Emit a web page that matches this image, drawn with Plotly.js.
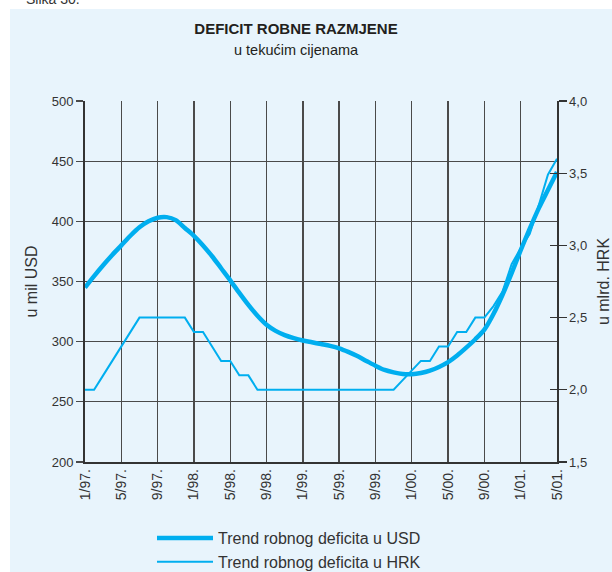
<!DOCTYPE html>
<html>
<head>
<meta charset="utf-8">
<script src="https://cdn.plot.ly/plotly-3.0.1.min.js"></script>
<style>
  html, body { margin: 0; padding: 0; background: #ffffff; }
  #chart { width: 612px; height: 572px; }
</style>
</head>
<body>
<div id="chart"></div>
<script>
// Monthly data, 1/1997 .. 5/2001 (53 months)
const usdTrend = [
  345, 354.5, 363.5, 372, 380, 388, 395, 400, 403, 403.5,
  401, 394.5, 388, 380, 371, 361, 351, 340.5, 330.5, 321.5,
  314, 309, 305.5, 303, 301, 299.5, 298, 296.5, 294.5, 291.5,
  288, 284, 280, 276.5, 274.5, 273.2, 273, 274, 276, 279,
  283, 288.5, 295, 302, 310, 323, 339, 357, 376, 394,
  411, 426, 441
];
const hrkTrend = [
  2.0, 2.0, 2.1, 2.2, 2.3, 2.4, 2.5, 2.5, 2.5, 2.5,
  2.5, 2.5, 2.4, 2.4, 2.3, 2.2, 2.2, 2.1, 2.1, 2.0,
  2.0, 2.0, 2.0, 2.0, 2.0, 2.0, 2.0, 2.0, 2.0, 2.0,
  2.0, 2.0, 2.0, 2.0, 2.0, 2.067, 2.133, 2.2, 2.2, 2.3,
  2.3, 2.4, 2.4, 2.5, 2.5, 2.58, 2.68, 2.87, 2.98, 3.08,
  3.28, 3.49, 3.60
];
const tickMonths = [0, 4, 8, 12, 16, 20, 24, 28, 32, 36, 40, 44, 48, 52];
const tickLabels = ['1/97.', '5/97.', '9/97.', '1/98.', '5/98.', '9/98.', '1/99.',
                    '5/99.', '9/99.', '1/00.', '5/00.', '9/00.', '1/01.', '5/01.'];
const seriesNames = ['Trend robnog deficita u USD', 'Trend robnog deficita u HRK'];
const chartTitle = 'DEFICIT ROBNE RAZMJENE';
const chartSubtitle = 'u tekućim cijenama';
const months = usdTrend.map((_, i) => i);

const LINE = '#00aeef';
const GRID = '#4a4a4a';
const TXT = '#333333';
const BG = '#e8f4fc';
const FONT = '"Liberation Sans", Arial, sans-serif';

const traces = [
  { x: months, y: usdTrend, name: seriesNames[0], type: 'scatter', mode: 'lines',
    line: { color: LINE, width: 4.5, shape: 'spline', smoothing: 0.8 }, yaxis: 'y' },
  { x: months, y: hrkTrend, name: seriesNames[1], type: 'scatter', mode: 'lines',
    line: { color: LINE, width: 2 }, yaxis: 'y2' },
  // invisible helper so the inside ticks of the right axis are drawn
  { x: [0], y: [1.5], yaxis: 'y3', mode: 'markers', marker: { opacity: 0 },
    showlegend: false, hoverinfo: 'skip' }
];

const layout = {
  width: 612, height: 572,
  margin: { l: 85, r: 55, t: 101, b: 110, pad: 0, autoexpand: false },
  paper_bgcolor: '#ffffff',
  plot_bgcolor: 'rgba(0,0,0,0)',
  separators: ', ',
  font: { family: FONT, color: TXT, size: 13 },
  title: {
    text: '<b>' + chartTitle + '</b>',
    font: { family: FONT, size: 15, color: '#231f20' },
    x: 296 / 612, xanchor: 'center', xref: 'container',
    y: 1 - 29 / 572, yanchor: 'middle', yref: 'container'
  },
  xaxis: {
    range: [0, 52],
    tickvals: tickMonths, ticktext: tickLabels,
    tickangle: -90,
    tickfont: { size: 14, color: TXT },
    ticks: '',
    showgrid: true, gridcolor: GRID, gridwidth: 1.3,
    showline: true, linecolor: '#333333', linewidth: 1.5,
    zeroline: false, automargin: false
  },
  yaxis: {
    range: [200, 500],
    tickvals: [200, 250, 300, 350, 400, 450, 500],
    ticks: 'outside', ticklen: 7, tickcolor: GRID, tickwidth: 1.3,
    tickfont: { size: 13, color: TXT },
    showgrid: true, gridcolor: GRID, gridwidth: 1.3,
    showline: true, linecolor: '#333333', linewidth: 2,
    zeroline: false, automargin: false,
    title: { text: 'u mil USD', font: { size: 16, color: TXT }, standoff: 10 }
  },
  yaxis2: {
    range: [1.5, 4.0], overlaying: 'y', side: 'right',
    tickvals: [1.5, 2.0, 2.5, 3.0, 3.5, 4.0], tickformat: '.1f',
    ticks: 'outside', ticklen: 8, tickcolor: '#333333', tickwidth: 1.3,
    tickfont: { size: 13, color: TXT },
    showgrid: false, zeroline: false, automargin: false,
    showline: true, linecolor: '#333333', linewidth: 1.5,
    title: { text: 'u mlrd. HRK', font: { size: 16, color: TXT }, standoff: 15 }
  },
  yaxis3: {
    range: [1.5, 4.0], overlaying: 'y', side: 'right',
    tickvals: [1.5, 2.0, 2.5, 3.0, 3.5, 4.0],
    ticks: 'inside', ticklen: 7, tickcolor: '#333333', tickwidth: 1.3,
    showticklabels: false, showgrid: false, zeroline: false, showline: false
  },
  showlegend: true,
  legend: {
    x: (152 - 85) / 472, xanchor: 'left', y: (462 - 521) / 361, yanchor: 'top',
    orientation: 'v', bgcolor: 'rgba(0,0,0,0)',
    font: { size: 16, color: TXT, family: FONT },
    itemwidth: 56, tracegroupgap: 0
  },
  shapes: [
    { type: 'rect', xref: 'paper', yref: 'paper', layer: 'below',
      x0: (10 - 85) / 472, x1: (620 - 85) / 472,
      y0: (462 - 580) / 361, y1: (462 - 9) / 361,
      fillcolor: BG, line: { width: 0 } }
  ],
  annotations: [
    { text: chartSubtitle, xref: 'paper', yref: 'paper', showarrow: false,
      x: (296 - 85) / 472, xanchor: 'center', y: (462 - 50) / 361, yanchor: 'middle',
      font: { size: 14.5, color: '#231f20', family: FONT } },
    { text: 'Slika 30.', xref: 'paper', yref: 'paper', showarrow: false,
      x: (24 - 85) / 472, xanchor: 'left', y: (462 + 1) / 361, yanchor: 'middle',
      font: { size: 14, color: TXT, family: FONT } }
  ]
};

Plotly.newPlot('chart', traces, layout, { displayModeBar: false, staticPlot: true });
</script>
</body>
</html>
